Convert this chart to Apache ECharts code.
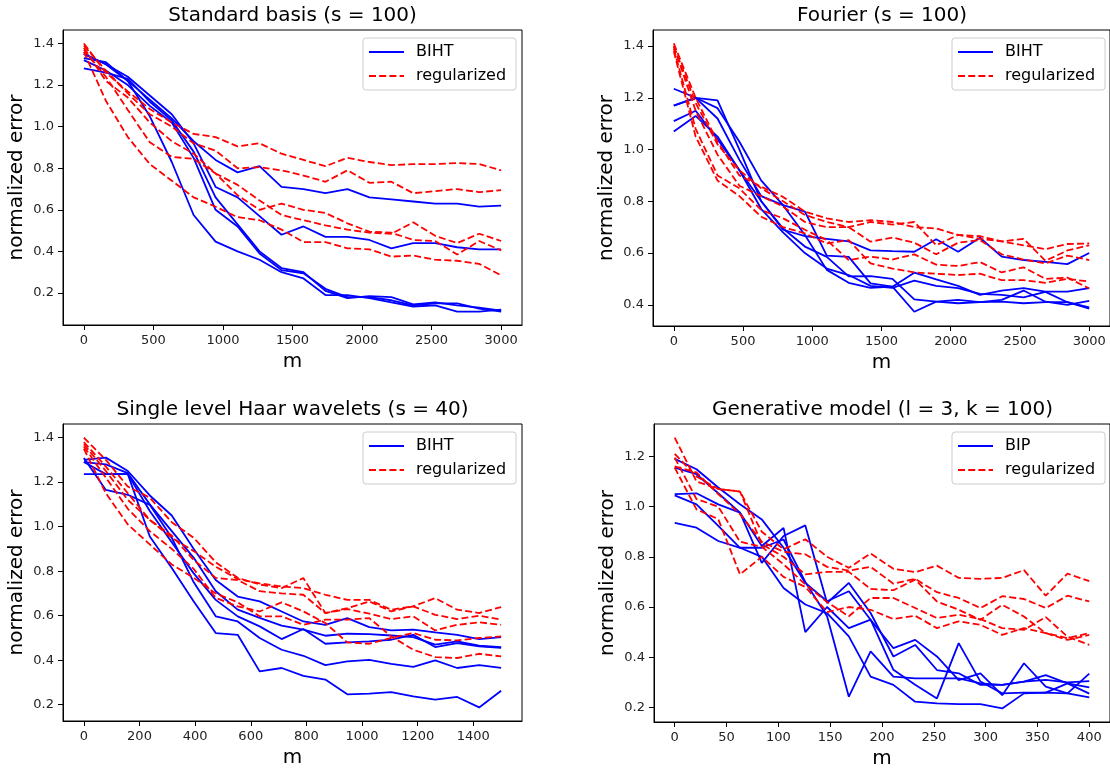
<!DOCTYPE html>
<html>
<head>
<meta charset="utf-8">
<script src="https://cdn.jsdelivr.net/npm/echarts@6/dist/echarts.min.js"></script>
<style>
html, body { margin: 0; padding: 0; background: #fff; }
#main { width: 1110px; height: 772px; }
</style>
</head>
<body>
<div id="main"></div>
<script>
// measurement counts m for each experiment
var mStd = [0, 158, 316, 474, 632, 789, 947, 1105, 1263, 1421, 1579, 1737, 1895, 2053, 2211, 2368, 2526, 2684, 2842, 3000];
var mHaar = [0, 79, 158, 237, 316, 395, 474, 553, 632, 711, 789, 868, 947, 1026, 1105, 1184, 1263, 1342, 1421, 1500];
var mGen = [0, 21, 42, 63, 84, 105, 126, 147, 168, 189, 211, 232, 253, 274, 295, 316, 337, 358, 379, 400];

// tick labels
var ticksM3000 = [0, 500, 1000, 1500, 2000, 2500, 3000];
var ticksM1500 = [0, 200, 400, 600, 800, 1000, 1200, 1400];
var ticksM400 = [0, 50, 100, 150, 200, 250, 300, 350, 400];
var ticksErrA = [0.2, 0.4, 0.6, 0.8, 1.0, 1.2, 1.4];
var ticksErrB = [0.4, 0.6, 0.8, 1.0, 1.2, 1.4];
var ticksErrC = [0.2, 0.4, 0.6, 0.8, 1.0, 1.2];

// Standard basis (s = 100)
var stdBIHT = [
  [1.33, 1.31, 1.22, 1.13, 1.04, 0.93, 0.84, 0.78, 0.81, 0.71, 0.70, 0.68, 0.70, 0.66, 0.65, 0.64, 0.63, 0.63, 0.615, 0.62],
  [1.35, 1.30, 1.24, 1.15, 1.06, 0.92, 0.71, 0.66, 0.57, 0.48, 0.52, 0.47, 0.47, 0.455, 0.415, 0.44, 0.44, 0.42, 0.41, 0.41],
  [1.35, 1.30, 1.22, 1.05, 0.83, 0.575, 0.447, 0.40, 0.36, 0.30, 0.27, 0.19, 0.19, 0.175, 0.155, 0.135, 0.14, 0.11, 0.11, 0.12],
  [1.32, 1.27, 1.20, 1.10, 1.02, 0.85, 0.60, 0.52, 0.39, 0.31, 0.295, 0.22, 0.18, 0.18, 0.165, 0.14, 0.15, 0.15, 0.125, 0.11],
  [1.28, 1.26, 1.23, 1.12, 1.03, 0.88, 0.66, 0.53, 0.40, 0.32, 0.30, 0.21, 0.175, 0.185, 0.18, 0.145, 0.155, 0.14, 0.13, 0.115]
];
var stdReg = [
  [1.40, 1.26, 1.17, 1.085, 1.02, 0.965, 0.95, 0.905, 0.92, 0.87, 0.84, 0.81, 0.85, 0.83, 0.815, 0.82, 0.82, 0.825, 0.82, 0.79],
  [1.39, 1.27, 1.16, 1.06, 1.00, 0.92, 0.885, 0.80, 0.805, 0.79, 0.765, 0.735, 0.79, 0.73, 0.735, 0.68, 0.69, 0.70, 0.685, 0.695],
  [1.38, 1.22, 1.14, 1.02, 0.93, 0.87, 0.775, 0.72, 0.645, 0.575, 0.55, 0.525, 0.505, 0.49, 0.485, 0.54, 0.475, 0.44, 0.485, 0.45],
  [1.37, 1.24, 1.08, 0.925, 0.855, 0.845, 0.775, 0.67, 0.60, 0.63, 0.60, 0.585, 0.535, 0.495, 0.49, 0.455, 0.45, 0.385, 0.45, 0.405],
  [1.36, 1.125, 0.95, 0.82, 0.74, 0.66, 0.615, 0.565, 0.55, 0.505, 0.445, 0.445, 0.415, 0.41, 0.375, 0.38, 0.36, 0.355, 0.34, 0.285]
];

// Fourier (s = 100)
var fourBIHT = [
  [1.235, 1.20, 1.19, 1.00, 0.80, 0.69, 0.665, 0.655, 0.645, 0.61, 0.607, 0.605, 0.653, 0.605, 0.659, 0.586, 0.573, 0.566, 0.557, 0.60],
  [1.17, 1.20, 1.16, 1.03, 0.88, 0.785, 0.76, 0.59, 0.585, 0.483, 0.47, 0.524, 0.498, 0.473, 0.438, 0.455, 0.464, 0.451, 0.451, 0.464],
  [1.11, 1.15, 1.04, 0.92, 0.80, 0.695, 0.625, 0.585, 0.51, 0.511, 0.50, 0.421, 0.412, 0.406, 0.41, 0.412, 0.406, 0.41, 0.41, 0.39],
  [1.07, 1.13, 1.05, 0.92, 0.77, 0.68, 0.60, 0.54, 0.515, 0.473, 0.465, 0.493, 0.473, 0.464, 0.442, 0.438, 0.429, 0.45, 0.41, 0.385],
  [1.17, 1.20, 1.12, 0.96, 0.82, 0.785, 0.67, 0.535, 0.485, 0.465, 0.47, 0.373, 0.412, 0.419, 0.41, 0.419, 0.455, 0.412, 0.40, 0.415]
];
var fourReg = [
  [1.41, 1.20, 1.03, 0.90, 0.856, 0.817, 0.76, 0.734, 0.72, 0.727, 0.72, 0.70, 0.695, 0.67, 0.655, 0.645, 0.63, 0.615, 0.635, 0.637],
  [1.40, 1.18, 1.02, 0.92, 0.85, 0.80, 0.747, 0.72, 0.70, 0.72, 0.71, 0.72, 0.63, 0.67, 0.665, 0.645, 0.655, 0.57, 0.61, 0.63],
  [1.40, 1.15, 0.98, 0.86, 0.82, 0.78, 0.72, 0.70, 0.70, 0.644, 0.66, 0.64, 0.595, 0.64, 0.65, 0.595, 0.575, 0.56, 0.59, 0.573],
  [1.39, 1.08, 0.90, 0.85, 0.766, 0.734, 0.69, 0.65, 0.573, 0.586, 0.575, 0.595, 0.555, 0.55, 0.565, 0.525, 0.545, 0.50, 0.505, 0.463],
  [1.38, 1.05, 0.88, 0.82, 0.74, 0.70, 0.676, 0.637, 0.65, 0.56, 0.54, 0.525, 0.52, 0.515, 0.52, 0.495, 0.495, 0.485, 0.50, 0.49]
];

// Single level Haar wavelets (s = 40)
var haarBIHT = [
  [1.30, 1.31, 1.25, 1.14, 1.05, 0.90, 0.76, 0.686, 0.664, 0.619, 0.574, 0.559, 0.589, 0.549, 0.534, 0.537, 0.525, 0.514, 0.495, 0.504],
  [1.29, 1.28, 1.24, 1.10, 0.98, 0.86, 0.71, 0.627, 0.59, 0.555, 0.537, 0.51, 0.519, 0.517, 0.511, 0.504, 0.47, 0.485, 0.465, 0.459],
  [1.236, 1.236, 1.236, 1.07, 0.93, 0.79, 0.671, 0.597, 0.552, 0.495, 0.54, 0.474, 0.48, 0.485, 0.492, 0.514, 0.459, 0.477, 0.462, 0.455],
  [1.308, 1.165, 1.143, 1.098, 0.95, 0.75, 0.597, 0.574, 0.50, 0.447, 0.42, 0.378, 0.395, 0.402, 0.384, 0.37, 0.399, 0.365, 0.378, 0.366],
  [1.29, 1.236, 1.236, 0.956, 0.814, 0.664, 0.522, 0.514, 0.35, 0.365, 0.33, 0.313, 0.247, 0.25, 0.257, 0.238, 0.223, 0.235, 0.188, 0.263]
];
var haarReg = [
  [1.40, 1.30, 1.18, 1.13, 1.02, 0.95, 0.84, 0.77, 0.74, 0.724, 0.769, 0.612, 0.634, 0.664, 0.619, 0.642, 0.679, 0.627, 0.612, 0.639],
  [1.38, 1.27, 1.15, 1.03, 0.95, 0.89, 0.82, 0.765, 0.745, 0.731, 0.724, 0.694, 0.671, 0.671, 0.627, 0.642, 0.604, 0.585, 0.60, 0.582],
  [1.37, 1.25, 1.12, 1.03, 0.96, 0.85, 0.77, 0.76, 0.71, 0.70, 0.694, 0.612, 0.63, 0.609, 0.585, 0.597, 0.534, 0.559, 0.57, 0.559],
  [1.36, 1.22, 1.08, 0.98, 0.90, 0.81, 0.68, 0.642, 0.619, 0.66, 0.619, 0.567, 0.48, 0.474, 0.50, 0.522, 0.492, 0.489, 0.50, 0.507],
  [1.35, 1.15, 1.01, 0.92, 0.83, 0.77, 0.70, 0.66, 0.597, 0.597, 0.559, 0.582, 0.582, 0.589, 0.507, 0.447, 0.414, 0.41, 0.429, 0.417]
];

// Generative model (l = 3, k = 100)
var genBIP = [
  [1.19, 1.149, 1.076, 1.009, 0.949, 0.836, 0.696, 0.623, 0.663, 0.549, 0.436, 0.469, 0.403, 0.309, 0.336, 0.249, 0.376, 0.283, 0.256, 0.335],
  [1.155, 1.129, 1.053, 0.976, 0.776, 0.883, 0.925, 0.616, 0.696, 0.576, 0.403, 0.449, 0.349, 0.336, 0.29, 0.29, 0.303, 0.329, 0.296, 0.28],
  [1.05, 1.053, 1.009, 0.976, 0.843, 0.915, 0.50, 0.60, 0.516, 0.55, 0.35, 0.29, 0.236, 0.456, 0.303, 0.256, 0.259, 0.259, 0.296, 0.255],
  [1.045, 1.009, 0.923, 0.836, 0.80, 0.676, 0.61, 0.576, 0.483, 0.323, 0.29, 0.223, 0.216, 0.213, 0.213, 0.196, 0.256, 0.259, 0.256, 0.24],
  [0.935, 0.916, 0.863, 0.836, 0.836, 0.869, 0.70, 0.563, 0.243, 0.423, 0.323, 0.316, 0.316, 0.316, 0.296, 0.29, 0.303, 0.31, 0.30, 0.305]
];
var genReg = [
  [1.21, 1.12, 1.07, 1.06, 0.90, 0.83, 0.87, 0.80, 0.756, 0.813, 0.752, 0.739, 0.765, 0.716, 0.712, 0.716, 0.747, 0.645, 0.733, 0.703],
  [1.16, 1.136, 1.05, 0.97, 0.86, 0.82, 0.81, 0.76, 0.745, 0.76, 0.693, 0.712, 0.659, 0.636, 0.596, 0.643, 0.632, 0.596, 0.645, 0.622],
  [1.275, 1.10, 1.07, 1.06, 0.85, 0.80, 0.73, 0.74, 0.74, 0.672, 0.667, 0.709, 0.622, 0.589, 0.549, 0.609, 0.562, 0.496, 0.469, 0.489],
  [1.195, 1.03, 1.0, 0.86, 0.84, 0.77, 0.69, 0.62, 0.563, 0.636, 0.636, 0.596, 0.556, 0.569, 0.552, 0.516, 0.509, 0.56, 0.482, 0.449],
  [1.155, 0.989, 0.95, 0.73, 0.80, 0.72, 0.68, 0.58, 0.60, 0.589, 0.552, 0.565, 0.516, 0.543, 0.529, 0.489, 0.516, 0.496, 0.476, 0.496]
];

var chart = echarts.init(document.getElementById('main'));
var FONT = 'DejaVu Sans';
var BLUE = '#0000ff', RED = '#ff0000';

var panels = [
  {title: 'Standard basis (s = 100)', m: mStd, blue: stdBIHT, red: stdReg, blueName: 'BIHT',
   xMin: -150, xMax: 3150, xTicks: ticksM3000, yMin: 0.046, yMax: 1.465, yTicks: ticksErrA,
   box: [63, 30, 459, 295], legendLeft: 363},
  {title: 'Fourier (s = 100)', m: mStd, blue: fourBIHT, red: fourReg, blueName: 'BIHT',
   xMin: -150, xMax: 3150, xTicks: ticksM3000, yMin: 0.318, yMax: 1.462, yTicks: ticksErrB,
   box: [653, 30, 458, 296], legendLeft: 952},
  {title: 'Single level Haar wavelets (s = 40)', m: mHaar, blue: haarBIHT, red: haarReg, blueName: 'BIHT',
   xMin: -75, xMax: 1575, xTicks: ticksM1500, yMin: 0.127, yMax: 1.461, yTicks: ticksErrA,
   box: [63, 424, 459, 297], legendLeft: 363},
  {title: 'Generative model (l = 3, k = 100)', m: mGen, blue: genBIP, red: genReg, blueName: 'BIP',
   xMin: -20, xMax: 420, xTicks: ticksM400, yMin: 0.142, yMax: 1.329, yTicks: ticksErrC,
   box: [654, 424, 457, 298], legendLeft: 952}
];

var grids = [], xAxes = [], yAxes = [], titles = [], legends = [], series = [];

panels.forEach(function (p, i) {
  grids.push({left: p.box[0], top: p.box[1], width: p.box[2], height: p.box[3],
    show: true, borderColor: '#000', borderWidth: 1});
  titles.push({text: p.title, left: p.box[0] + p.box[2] / 2, top: p.box[1] - 24, textAlign: 'center', padding: 0,
    textStyle: {fontSize: 20, fontWeight: 'normal', fontFamily: FONT, color: '#000'}});
  xAxes.push({type: 'value', gridIndex: i, min: p.xMin, max: p.xMax,
    name: 'm', nameLocation: 'middle', nameGap: 27,
    nameTextStyle: {fontSize: 20, fontFamily: FONT, color: '#000'},
    axisLine: {show: true, onZero: false, lineStyle: {color: '#000', width: 1}},
    axisTick: {show: true, length: 5, customValues: p.xTicks, lineStyle: {color: '#000'}},
    axisLabel: {customValues: p.xTicks, margin: 9, fontSize: 13, fontFamily: FONT, color: '#222',
      formatter: function (v) { return String(v); }},
    splitLine: {show: false}});
  yAxes.push({type: 'value', gridIndex: i, min: p.yMin, max: p.yMax,
    name: 'normalized error', nameLocation: 'middle', nameGap: 36,
    nameTextStyle: {fontSize: 20, fontFamily: FONT, color: '#000'},
    axisLine: {show: true, onZero: false, lineStyle: {color: '#000', width: 1}},
    axisTick: {show: true, length: 5, customValues: p.yTicks, lineStyle: {color: '#000'}},
    axisLabel: {customValues: p.yTicks, margin: 9, fontSize: 13, fontFamily: FONT, color: '#222',
      formatter: function (v) { return v.toFixed(1); }},
    splitLine: {show: false}});
  legends.push({orient: 'vertical', left: p.legendLeft, top: p.box[1] + 8,
    data: [p.blueName, 'regularized'], selectedMode: false,
    itemWidth: 35, itemHeight: 14, itemGap: 8, padding: [6, 10, 6, 5],
    itemStyle: {color: 'rgba(0,0,0,0)', borderWidth: 0, opacity: 0},
    borderColor: '#cccccc', borderWidth: 1, borderRadius: 3, backgroundColor: 'rgba(255,255,255,0.85)',
    textStyle: {fontSize: 16, fontFamily: FONT, color: '#000', padding: [0, 0, 0, 7]}});

  p.blue.forEach(function (run) {
    series.push({type: 'line', name: p.blueName, xAxisIndex: i, yAxisIndex: i,
      data: p.m.map(function (x, k) { return [x, run[k]]; }),
      symbol: 'none', silent: true,
      lineStyle: {color: BLUE, width: 1.8}, itemStyle: {color: BLUE}});
  });
  p.red.forEach(function (run) {
    series.push({type: 'line', name: 'regularized', xAxisIndex: i, yAxisIndex: i,
      data: p.m.map(function (x, k) { return [x, run[k]]; }),
      symbol: 'none', silent: true,
      lineStyle: {color: RED, width: 1.8, type: [7, 3.2]}, itemStyle: {color: RED}});
  });
});

chart.setOption({
  animation: false,
  backgroundColor: '#fff',
  title: titles,
  legend: legends,
  grid: grids,
  xAxis: xAxes,
  yAxis: yAxes,
  series: series
});
</script>
</body>
</html>
